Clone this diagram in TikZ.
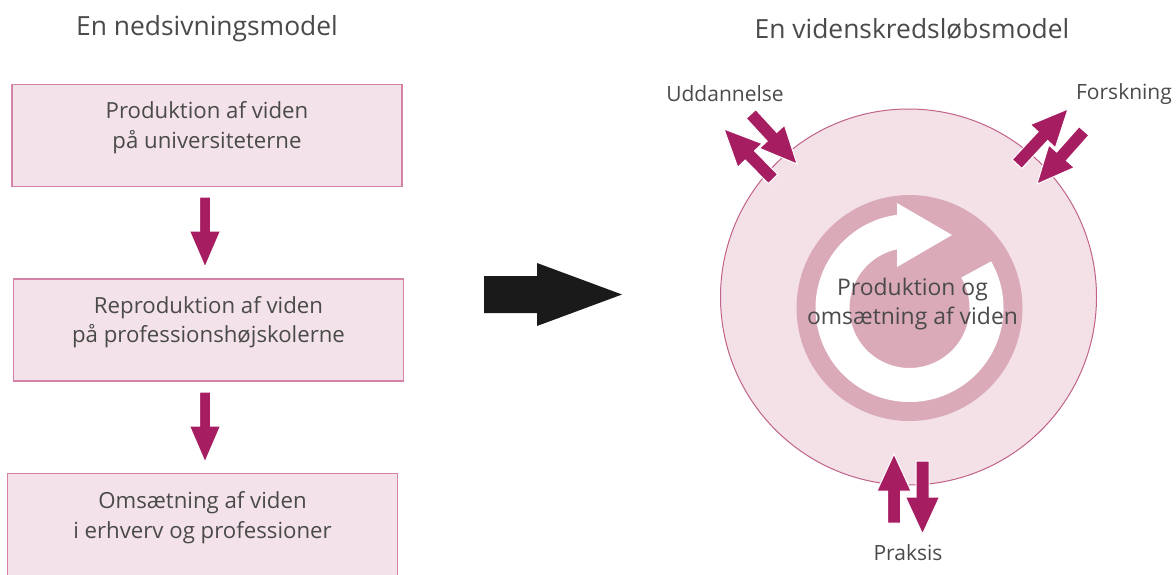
\documentclass[tikz,border=0pt]{standalone}
\usepackage{fontspec}
\setmainfont{Open Sans}
\usetikzlibrary{calc}
\definecolor{boxfill}{HTML}{F3E2E9}
\definecolor{boxline}{HTML}{D482A6}
\definecolor{arrmag}{HTML}{A61D61}
\definecolor{circfill}{HTML}{F4E1E8}
\definecolor{circline}{HTML}{C0628A}
\definecolor{ringcol}{HTML}{DBAAB9}
\definecolor{txtgray}{HTML}{4A4A4A}
\definecolor{bigblack}{HTML}{1A1A1A}
\def\aSW{5.5pt}
\def\aHW{15.5pt}
\def\aHL{36pt}
\newcommand\fatarr[2]{%
  \coordinate (hb) at ($(#2)!\aHL!(#1)$);
  \filldraw[fill=arrmag,draw=white,line width=1pt,line join=miter]
    ($(#1)!\aSW!90:(#2)$) -- ($(hb)!\aSW!90:(#2)$) -- ($(hb)!\aHW!90:(#2)$) -- (#2)
    -- ($(hb)!\aHW!-90:(#2)$) -- ($(hb)!\aSW!-90:(#2)$) -- ($(#1)!\aSW!-90:(#2)$) -- cycle;
}
\tikzset{
  boxnode/.style={draw=boxline,fill=boxfill,line width=1.4pt,minimum width=390pt,minimum height=102pt,inner sep=0pt},
  boxtext/.style={text=txtgray,font=\fontsize{22.2}{29.5}\selectfont,align=center,inner sep=0pt},
  titletext/.style={text=txtgray,font=\fontsize{26.4}{30}\selectfont,inner sep=0pt},
  labeltext/.style={text=txtgray,font=\fontsize{21}{28}\selectfont,inner sep=0pt},
}
\begin{document}
\begin{tikzpicture}[x=1pt,y=-1pt]
\useasboundingbox (0,0) rectangle (1176,574);
\fill[white] (0,0) rectangle (1176,574);
% titles
\node[titletext] (t1) at (207,29) {En nedsivningsmodel};
\node[titletext] (t2) at (912,29) {En videnskredsløbsmodel};
% left boxes
\node[boxnode] (box1) at (207,135.5) {};
\node[boxnode] (box2) at (208.5,330) {};
\node[boxnode] (box3) at (202.5,524.5) {};
\node[boxtext] (b1t) at ($(box1.center)+(0,-8)$) {Produktion af viden\\på universiteterne};
\node[boxtext] (b2t) at ($(box2.center)+(0,-8)$) {Reproduktion af viden\\på professionshøjskolerne};
\node[boxtext] (b3t) at ($(box3.center)+(0,-7)$) {Omsætning af viden\\i erhverv og professioner};
\coordinate (a1s) at (205,197);
\coordinate (a1e) at (205,267);
\coordinate (a2s) at (205,392);
\coordinate (a2e) at (205,462);
\fatarr{a1s}{a1e}
\fatarr{a2s}{a2e}
% big arrow
\coordinate (bigA) at (484,294.5);
\coordinate (bigB) at (622,294.5);
\fill[bigblack] ($(bigA)+(0,-18.5)$) -- (537,276) -- (537,263) -- (bigB) -- (537,326) -- (537,313) -- ($(bigA)+(0,18.5)$) -- cycle;
% circle model
\coordinate (cc) at (908.5,297);
\coordinate (rc) at (909.5,308);
\node[circle,draw=circline,fill=circfill,line width=1pt,minimum size=376pt,inner sep=0pt] (outer) at (cc) {};
\node[circle,fill=ringcol,minimum size=226pt,inner sep=0pt] (ring) at (rc) {};
\draw[white,line width=34pt] (rc) ++(-30:77) arc[start angle=-30,end angle=263,radius=77];
\fill[white] (897,203) -- (952,235) -- (897,267) -- cycle;
\node[text=txtgray,font=\fontsize{22.9}{28.5}\selectfont,align=center,inner sep=0pt] (ctext) at (912.5,304) {Produktion og\\omsætning af viden};
% labels
\node[labeltext] (udd) at (725,94) {Uddannelse};
\node[labeltext] (fors) at (1124,94) {Forskning};
\node[labeltext] (prak) at (908,553) {Praksis};
% small arrows
\def\aSW{6.5pt}
\def\aHW{17pt}
\def\aHL{37pt}
\coordinate (u1s) at (751,114); \coordinate (u1e) at (797,164);
\coordinate (u2s) at (773,179); \coordinate (u2e) at (724,129);
\coordinate (f1s) at (1017,164); \coordinate (f1e) at (1068,109);
\coordinate (f2s) at (1084,131); \coordinate (f2e) at (1037,184);
\coordinate (p1s) at (894,523); \coordinate (p1e) at (894,454);
\coordinate (p2s) at (922.5,461); \coordinate (p2e) at (922.5,534);
\fatarr{u1s}{u1e}
\fatarr{u2s}{u2e}
\fatarr{f1s}{f1e}
\fatarr{f2s}{f2e}
\fatarr{p1s}{p1e}
\fatarr{p2s}{p2e}
\end{tikzpicture}
\end{document}
